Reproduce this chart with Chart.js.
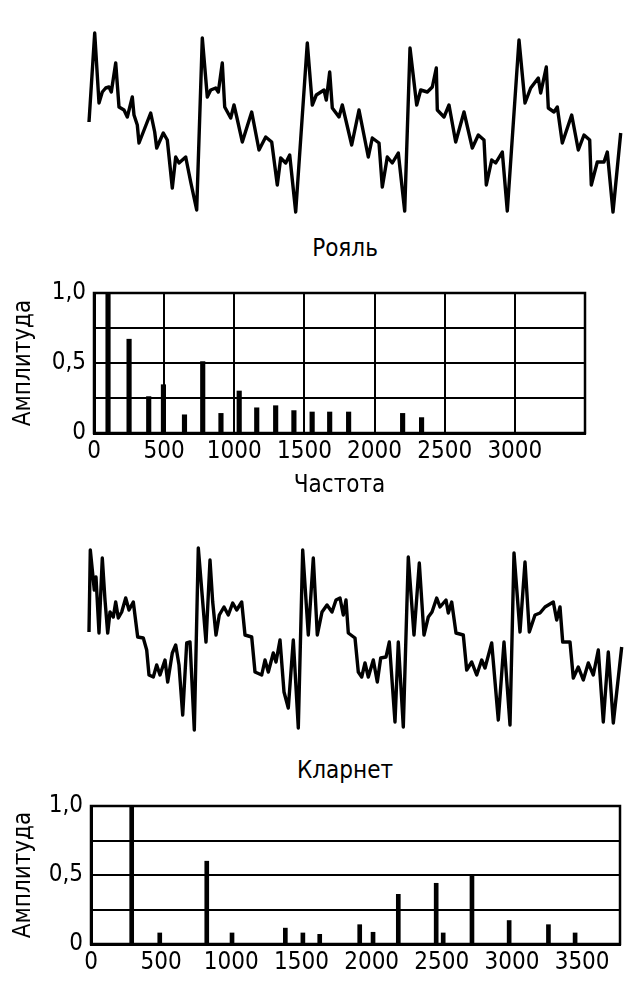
<!DOCTYPE html>
<html>
<head>
<meta charset="utf-8">
<script src="https://cdn.jsdelivr.net/npm/chart.js@4"></script>
<style>
  body { margin: 0; background: #fff; }
  #page { position: relative; width: 637px; height: 1000px; overflow: hidden; }
  .box { position: absolute; }
  .caption { position: absolute; width: 200px; text-align: center; font: 24px 'DejaVu Sans Condensed', sans-serif; line-height: 28px; color: #000; }
</style>
</head>
<body>
<div id="page">
  <div class="box" style="left:79px;top:23px;width:553px;height:199px"><canvas id="piano-wave" width="553" height="199"></canvas></div>
  <div class="caption" style="left:245px;top:234px">Рояль</div>
  <div class="box" style="left:0;top:273px;width:637px;height:227px"><canvas id="piano-spec" width="637" height="227"></canvas></div>
  <div class="box" style="left:79px;top:538px;width:553px;height:202px"><canvas id="clar-wave" width="553" height="202"></canvas></div>
  <div class="caption" style="left:245px;top:756px">Кларнет</div>
  <div class="box" style="left:0;top:785px;width:637px;height:215px"><canvas id="clar-spec" width="637" height="215"></canvas></div>
</div>
<script>
// waveforms, time in arbitrary units, level relative to the middle line
const pianoTime = [
  0, 0.57, 1.0, 1.33, 1.67, 2.0, 2.23, 2.67, 3.0, 3.5, 3.83, 4.33, 4.5, 4.83, 5.0, 6.17, 6.57, 6.77, 7.43, 7.83, 8.33, 8.67, 9.0, 9.67, 10.17, 10.77,
  11.33, 11.83, 12.17, 12.67, 12.93, 13.33, 13.57, 14.17, 14.5, 14.8, 15.33, 16.27, 17.0, 17.67, 18.27, 18.83, 19.17, 19.67, 20.07, 20.67,
  21.83, 22.33, 22.73, 23.5, 23.73, 24.07, 24.33, 25.0, 25.33, 26.27, 27.0, 27.93, 28.33, 29.0, 29.33, 29.83, 30.33, 30.93, 31.57,
  32.1, 32.77, 33.17, 33.83, 34.33, 34.73, 34.83, 35.5, 36.0, 36.67, 37.5, 38.33, 38.93, 39.5, 39.73, 40.27, 40.67, 41.33, 41.83,
  43.0, 43.6, 44.17, 44.93, 45.17, 45.73, 45.93, 46.5, 46.83, 47.33, 48.27, 48.93, 49.5, 50.07, 50.23, 50.83, 51.5, 51.83, 52.4, 53.17
];
const pianoLevel = [
  0.00, 0.89, 0.19, 0.30, 0.34, 0.35, 0.30, 0.59, 0.15, 0.12, 0.05, 0.25, 0.07, -0.03, -0.21, 0.09, -0.10, -0.26, -0.11, -0.18, -0.66, -0.35, -0.41, -0.35, -0.60, -0.88,
  0.84, 0.25, 0.32, 0.34, 0.30, 0.59, 0.15, 0.04, 0.17, 0.04, -0.20, 0.10, -0.28, -0.15, -0.20, -0.63, -0.36, -0.41, -0.33, -0.90,
  0.79, 0.17, 0.27, 0.32, 0.22, 0.50, 0.14, 0.05, 0.17, -0.23, 0.12, -0.35, -0.16, -0.21, -0.65, -0.35, -0.41, -0.31, -0.89,
  0.74, 0.17, 0.32, 0.30, 0.35, 0.54, 0.12, 0.05, 0.17, -0.20, 0.10, -0.26, -0.13, -0.18, -0.63, -0.38, -0.41, -0.30, -0.89,
  0.82, 0.19, 0.34, 0.44, 0.29, 0.55, 0.14, 0.10, 0.15, -0.21, 0.07, -0.28, -0.13, -0.18, -0.63, -0.40, -0.40, -0.30, -0.90, -0.11
];

const clarTime = [
  0, 0.13, 0.53, 0.7, 1.0, 1.33, 1.6, 1.87, 2.1, 2.43, 2.67, 2.93, 3.27, 3.67, 4.0, 4.43, 4.87, 5.43, 5.77, 6.0, 6.43, 6.77, 7.1, 7.6, 7.87, 8.33, 8.67, 9.0, 9.37, 9.77, 10.1, 10.53,
  10.93, 11.7, 12.1, 12.37, 12.7, 13.03, 13.5, 13.93, 14.37, 14.77, 15.27, 15.6, 16.27, 16.6, 17.27, 17.6, 17.93, 18.43, 18.7, 19.1, 19.5, 19.93, 20.43, 20.93,
  21.37, 21.93, 22.43, 22.83, 23.3, 23.8, 24.3, 24.7, 25.1, 25.43, 25.7, 25.93, 26.6, 26.93, 27.27, 27.6, 27.93, 28.43, 28.83, 29.17, 29.7, 30.03, 30.6, 30.93, 31.43,
  31.93, 32.5, 33.03, 33.5, 33.93, 34.3, 34.77, 35.1, 35.7, 35.93, 36.27, 36.7, 37.43, 37.77, 38.27, 38.77, 39.27, 39.6, 40.27, 40.93, 41.5, 42.1,
  42.5, 43.1, 43.6, 44.03, 44.6, 45.1, 45.6, 46.43, 46.77, 47.1, 47.37, 48.1, 48.43, 48.93, 49.43, 49.93, 50.43, 50.93, 51.43, 51.93, 52.43, 53.27
];
const clarLevel = [
  0.03, 0.85, 0.45, 0.58, 0.02, 0.77, 0.35, 0.02, 0.23, 0.18, 0.33, 0.17, 0.23, 0.37, 0.25, 0.33, -0.02, -0.03, -0.15, -0.40, -0.42, -0.30, -0.40, -0.25, -0.47, -0.18, -0.10, -0.30, -0.80, -0.08, -0.07, -0.95,
  0.87, -0.07, 0.75, 0.33, 0.00, 0.20, 0.28, 0.20, 0.32, 0.25, 0.33, 0.00, -0.02, -0.37, -0.40, -0.25, -0.37, -0.18, -0.27, -0.05, -0.57, -0.73, -0.05, -0.93,
  0.85, 0.00, 0.77, 0.00, 0.23, 0.30, 0.23, 0.35, 0.37, 0.20, 0.35, 0.02, -0.03, -0.37, -0.42, -0.28, -0.42, -0.25, -0.47, -0.23, -0.22, -0.07, -0.87, -0.07, -0.92,
  0.78, 0.00, 0.72, 0.00, 0.18, 0.23, 0.37, 0.28, 0.35, 0.22, 0.33, 0.02, 0.00, -0.35, -0.27, -0.40, -0.25, -0.33, -0.08, -0.85, -0.07, -0.90,
  0.82, 0.03, 0.73, 0.03, 0.20, 0.22, 0.28, 0.33, 0.15, 0.28, -0.07, -0.07, -0.43, -0.32, -0.45, -0.28, -0.40, -0.15, -0.87, -0.17, -0.88, -0.12
];

// spectra
const pianoFreq = [100, 250, 390, 495, 645, 775, 905, 1035, 1160, 1295, 1425, 1555, 1680, 1815, 2200, 2335];
const pianoAmp = [1.0, 0.67, 0.26, 0.345, 0.13, 0.51, 0.14, 0.30, 0.18, 0.195, 0.16, 0.15, 0.15, 0.15, 0.14, 0.11];

const clarFreq = [290, 490, 825, 1005, 1385, 1510, 1630, 1915, 2010, 2190, 2460, 2510, 2715, 2980, 3260, 3450];
const clarAmp = [1.0, 0.08, 0.60, 0.08, 0.115, 0.08, 0.07, 0.14, 0.085, 0.36, 0.44, 0.08, 0.50, 0.17, 0.14, 0.08];

// axis ticks
const freqTicks = [0, 500, 1000, 1500, 2000, 2500, 3000, 3500];
const ampTicks = [0, 0.25, 0.5, 0.75, 1];
const ampLabels = { 0: '0', 0.5: '0,5', 1: '1,0' };

Chart.defaults.font.family = "'DejaVu Sans Condensed', sans-serif";
Chart.defaults.color = '#000';
Chart.defaults.animation = false;

// box round the plot area
const frame = {
  id: 'frame',
  afterDraw(chart) {
    const { ctx, chartArea: a } = chart;
    ctx.save();
    ctx.strokeStyle = '#000';
    ctx.lineWidth = 2.5;
    ctx.strokeRect(a.left, a.top, a.right - a.left, a.bottom - a.top);
    ctx.restore();
  }
};

const setTicks = values => scale => { scale.ticks = values.map(v => ({ value: v })); };

function wave(id, time, level, yMin, yMax) {
  new Chart(document.getElementById(id), {
    type: 'line',
    data: {
      datasets: [{
        data: time.map((t, i) => ({ x: t, y: level[i] })),
        borderColor: '#000',
        borderWidth: 3.4,
        borderJoinStyle: 'round',
        pointRadius: 0,
        tension: 0,
        clip: false,
      }],
    },
    options: {
      responsive: false,
      layout: { padding: 10 },
      plugins: { legend: { display: false }, tooltip: { enabled: false } },
      scales: {
        x: { type: 'linear', min: 0, max: 53.3, display: false },
        y: { min: yMin, max: yMax, display: false },
      },
    },
  });
}

function spectrum(id, freq, amp, opt) {
  new Chart(document.getElementById(id), {
    type: 'bar',
    data: {
      datasets: [{
        data: freq.map((f, i) => ({ x: f, y: amp[i] })),
        backgroundColor: '#000',
        barThickness: opt.bar,
      }],
    },
    plugins: [frame],
    options: {
      responsive: false,
      layout: { padding: { top: opt.top, right: opt.right, left: 0, bottom: 0 } },
      plugins: { legend: { display: false }, tooltip: { enabled: false } },
      scales: {
        x: {
          type: 'linear',
          min: 0,
          max: opt.xMax,
          offset: false,
          afterBuildTicks: setTicks(freqTicks),
          afterFit: s => { s.height = opt.xHeight; s.paddingLeft = 0; s.paddingRight = 0; },
          grid: { display: opt.vGrid, offset: false, color: '#000', lineWidth: 2, drawTicks: false },
          border: { display: true, color: '#000', width: 3 },
          ticks: {
            autoSkip: false,
            maxRotation: 0,
            padding: 4,
            font: { size: 24 },
            callback: v => (v <= opt.lastLabel ? String(v) : ''),
          },
          title: { display: !!opt.xTitle, text: opt.xTitle, font: { size: 24 }, padding: 0 },
        },
        y: {
          min: 0,
          max: 1,
          afterBuildTicks: setTicks(ampTicks),
          afterFit: s => { s.width = opt.yWidth; s.paddingTop = 0; s.paddingBottom = 0; },
          grid: { color: '#000', lineWidth: 2, drawTicks: false },
          border: { display: true, color: '#000', width: 3 },
          ticks: {
            autoSkip: false,
            padding: 8,
            font: { size: 24 },
            callback: v => ampLabels[v] || '',
          },
          title: { display: true, text: 'Амплитуда', font: { size: 24 }, padding: { top: 9, bottom: 0 } },
        },
      },
    },
  });
}

wave('piano-wave', pianoTime, pianoLevel, -0.90, 0.89);
wave('clar-wave', clarTime, clarLevel, -0.95, 0.87);

spectrum('piano-spec', pianoFreq, pianoAmp, {
  bar: 4.5, top: 20, right: 52, xMax: 3500, xHeight: 67, yWidth: 94,
  vGrid: true, lastLabel: 3000, xTitle: 'Частота',
});
spectrum('clar-spec', clarFreq, clarAmp, {
  bar: 4, top: 21, right: 17, xMax: 3770, xHeight: 56, yWidth: 91,
  vGrid: false, lastLabel: 3500, xTitle: '',
});
</script>
</body>
</html>
